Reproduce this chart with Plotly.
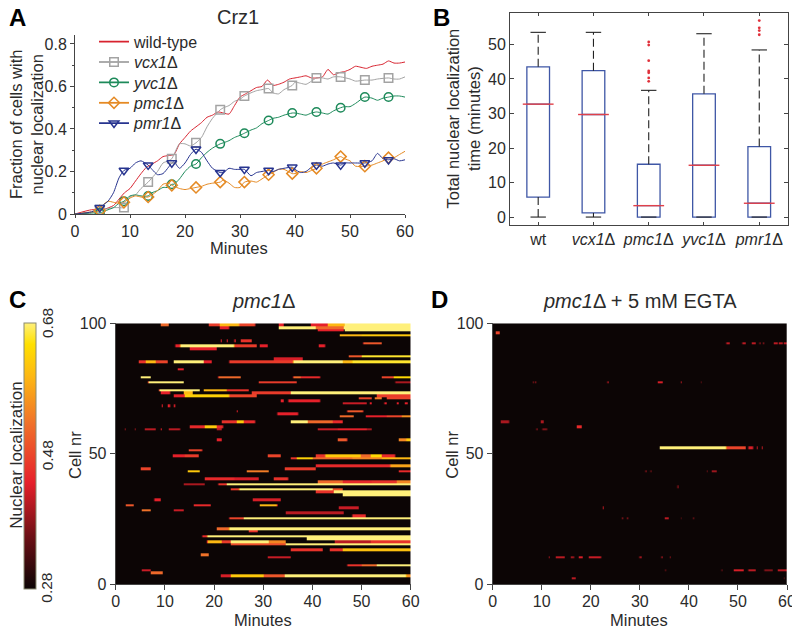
import numpy as np
import plotly.graph_objects as go

# The page is drawn 8 px in from the window's corner, so the figure is 8 px smaller each way
PAD = 8
W, H = 800 - PAD, 630 - PAD
FONT = "Liberation Sans"
DARK = "#2b2b2b"

# ---------- Panel A data ----------
t_wt = [0,3,5,7,8,9,10,11,12,13,14,15,16,17,18,19,20,21,22,23,24,25,26,27,28,29,30,31,32,33,34,35,36,37,38,39,40,41,42,43,44,45,46,47,48,49,50,51,52,53,54,55,56,57,58,59,60]
wt = [0,.02,.02,.04,.07,.1,.12,.155,.19,.22,.235,.25,.27,.275,.28,.33,.36,.39,.41,.43,.455,.465,.48,.475,.47,.51,.55,.565,.58,.595,.6,.63,.605,.61,.62,.635,.64,.645,.65,.64,.64,.645,.68,.655,.665,.67,.68,.695,.69,.685,.695,.70,.705,.72,.71,.71,.715]
t_vcx = [0,3,4.5,6,7,8,8.9,10,11,12,13.3,14,15,16,17,17.6,18,19,20,21,22,23,24,25,26.4,27,28,29,30,30.8,32,33,34,35.2,36,37,38,39.5,40,41,42,43,43.9,45,46,47,48.3,50,51,52.7,54,55,57,58,59,60]
vcx = [0,.005,.02,.025,.03,.03,.03,.08,.09,.12,.15,.17,.2,.24,.25,.26,.28,.33,.33,.32,.335,.36,.41,.45,.49,.5,.51,.53,.54,.555,.57,.58,.585,.59,.57,.565,.585,.605,.62,.615,.61,.625,.64,.64,.635,.645,.645,.635,.625,.63,.63,.635,.64,.635,.635,.645]
t_yvc = [0,3,4.5,6,7,8,8.9,10,11,12,13.3,14,15,16,17,17.6,18,19,20,21,22,23,24,25,26.4,27,28,29,30,30.8,32,33,34,35.2,36,37,38,39.5,40,41,42,43,43.9,45,46,47,48.3,49,50,51,52.7,54,55,56,57,58,59,60]
yvc = [0,.005,.005,.02,.03,.05,.06,.085,.09,.085,.085,.1,.11,.125,.125,.14,.14,.165,.2,.225,.235,.265,.29,.31,.33,.335,.345,.36,.37,.38,.395,.405,.425,.44,.45,.455,.465,.475,.475,.47,.465,.475,.48,.475,.47,.485,.5,.505,.505,.52,.55,.545,.535,.545,.55,.555,.555,.55]
t_pmc = [0,3,4.5,5,6,7,8,8.9,10,11,12,13.3,14,15,16,17,17.6,18,19,20,21,22,23,24,25,26.4,27,28,29,30,30.8,32,33,34,35.2,36,37,38,39.5,40,41,42,43,43.9,45,46,47,48.3,49,50,51,52.7,54,55,56,57,58,59,60]
pmc = [0,.01,.015,.04,.06,.055,.05,.055,.075,.085,.08,.08,.09,.11,.14,.145,.135,.13,.12,.115,.12,.125,.13,.14,.145,.15,.16,.145,.125,.125,.15,.155,.15,.165,.185,.195,.21,.21,.19,.19,.2,.195,.205,.215,.235,.245,.255,.27,.26,.25,.225,.225,.23,.24,.25,.265,.265,.28,.295]
t_pmr = [0,3,4.5,5,6,7,8,8.9,10,11,12,13.3,14,15,16,17,17.6,18,19,20,21,22,23,24,25,26.4,27,28,29,30,30.8,32,33,34,35.2,36,37,38,39.5,40,41,42,43,43.9,45,46,47,48.3,49,50,51,52.7,54,55,56,57,58,59,60]
pmr = [0,.01,.03,.04,.06,.1,.17,.205,.215,.24,.25,.23,.21,.185,.19,.22,.24,.245,.215,.24,.28,.305,.29,.25,.215,.195,.195,.215,.21,.21,.21,.18,.195,.2,.205,.2,.21,.215,.22,.21,.195,.2,.22,.23,.225,.235,.24,.23,.24,.24,.24,.24,.25,.285,.26,.255,.26,.25,.255]

t_marks = [4.5,8.9,13.3,17.6,22,26.4,30.8,35.2,39.5,43.9,48.3,52.7,57]
vcx_marks = [.02,.03,.15,.26,.335,.49,.555,.59,.605,.64,.645,.63,.64]
yvc_marks = [.005,.06,.085,.14,.235,.33,.38,.44,.475,.48,.5,.55,.55]
pmc_marks = [.015,.055,.08,.135,.125,.15,.15,.185,.19,.215,.27,.225,.265]
pmr_marks = [.03,.205,.23,.24,.305,.195,.21,.205,.22,.23,.23,.24,.255]

# ---------- Panel B data ----------
box_labels = ["wt", "<i>vcx1</i>Δ", "<i>pmc1</i>Δ", "<i>yvc1</i>Δ", "<i>pmr1</i>Δ"]
box_pos = [1, 2, 3, 4, 5]
box_low = [0, 0, 0, 0, 0]
box_q1 = [5.8, 1.2, 0, 0, 0]
box_med = [32.7, 29.7, 3.3, 15, 4]
box_q3 = [43.5, 42.4, 15.3, 35.7, 20.4]
box_up = [53.5, 53.5, 36.7, 53.1, 48.4]
out_x = [3, 3, 3, 3, 3, 3, 3, 5, 5, 5, 5]
out_y = [39.3, 40.3, 41.8, 42.3, 45.3, 49.8, 50.7, 52.8, 54, 54.8, 56.9]

# ---------- Panels C and D data: cell -> (start minute, end minute, level) ----------
R, O, A, Y = .44, .52, .6, .68   # red, orange, amber, yellow levels
cells_c = {
 100: [(9,10.7,O),(18.8,21,.47),(21,25,A),(25,28.3,.48),(33,34,R),(39.5,43,R),(43,46.5,A),(46.5,60,Y)],
 99: [(21,23,R),(33,40.5,Y),(40.5,46.3,O),(46.3,60,Y)],
 98: [(41,46.3,R),(46.6,60,Y)],
 96: [(45.5,50,A),(50,60,.62)],
 94: [(21.2,21.5,R),(22.5,22.8,R),(24,24.3,R),(25.3,27.6,.46)],
 93: [(50.3,54,.5)],
 92: [(12,13,R),(13,24,Y),(24,28.5,.47),(29.2,30.8,R),(41.2,42.5,R)],
 91: [(15,20.5,.44)],
 88: [(47.3,50,.5),(50,60,.66)],
 87: [(32,38,.43)],
 86: [(4.6,6,.46),(6,8,A),(8,10.4,.48),(11.7,17.8,Y),(17.8,19.4,R),(23,36,.47),(36,46,Y),(46,48,A),(48,60,.66)],
 83: [(12.5,13.8,R)],
 80: [(5,7,Y),(20.7,25.3,.52),(36,37.5,O),(37.5,41.5,.45),(54,56.5,.48),(56.5,60,.64)],
 78: [(6.5,13.8,Y),(29,36.8,.47),(56.8,60,.4)],
 75: [(8.7,17,Y),(17.8,22.5,A),(22.5,27,.46)],
 74: [(13.8,15.4,A),(9,11,R),(27.5,35.5,.47),(35.5,60,Y)],
 73: [(11.7,14,R),(14,23,.63),(23,28.5,.48),(53,60,.47)],
 72: [(49.3,52,.48),(52.5,54,.54),(55,60,.48)],
 71: [(33.5,34,R),(35,35.4,R),(35.4,41.5,.44)],
 70: [(46,51,.42),(51.5,52,R),(54.5,55,R),(57,57.5,R),(58.8,59.2,R)],
 69: [(9.2,9.5,R),(10.6,10.9,R),(11.7,12,R)],
 67: [(47,50.3,.5),(24.5,24.8,R)],
 66: [(32.7,37,.44)],
 65: [(45.6,48.3,.52),(50.7,55,.44),(55,58,.48),(58,60,.56)],
 63: [(21.6,24.5,.46),(24.5,26,.62),(26,28.3,.45),(35.4,39,Y),(39,44,.52),(44,46,.45)],
 61: [(15,18,.45),(18,20.5,.62),(20.5,21.8,.45)],
 60: [(1.8,2,.38),(3.8,4,.38),(5.8,8,.41),(9,9.3,R),(10.8,13,.41),(20.5,21.5,.41),(41,45,.42),(45,51,.44),(51,52,.4)],
 56: [(20.5,21.5,R),(45,47,.5),(57.5,59,.55),(59,60,.62)],
 52: [(14.8,17.5,.48)],
 50: [(11.6,14,.44),(14,16.8,.47),(30.7,33.5,.48),(40.5,42.5,.46),(42.5,49.7,.62),(49.7,51.7,.52),(51.7,54,.64),(54,56.8,.45)],
 49: [(35.4,36.8,.46),(36.8,40,.63),(40,48,.52),(48,54,.55),(54,60,.6)],
 46: [(40.6,41,R),(41,55.8,.45),(55.8,60,.58)],
 45: [(5,7,.48),(34.2,40.5,.47)],
 44: [(14.4,17,.62),(26.6,31,.54),(57.5,60,.45)],
 41: [(18,24,.45),(24,29,.43),(32,35,.46)],
 40: [(41,46,.52),(46,52,.45),(52,57,.46),(57,60,.55)],
 39: [(13.8,18,.4),(20.8,22.5,.46),(22.5,60,Y)],
 37: [(23.2,24.9,.47),(24.9,44,Y),(44,46,.5)],
 36: [(40.6,44.2,.46),(44.2,60,Y)],
 35: [(46,60,Y)],
 33: [(7.8,9,.44),(27.7,33.5,.43)],
 31: [(1.9,3.6,.5),(15.8,19.2,.45),(29.3,32.7,.6)],
 30: [(45.3,49.3,.42)],
 29: [(5.3,7,.53),(11.7,13.8,.42)],
 28: [(34.5,46.3,.41)],
 27: [(48,50.7,.45)],
 26: [(23,25.9,.48),(25.9,60,Y)],
 22: [(20.6,23,.52),(23,60,Y)],
 21: [(27,28.7,.46)],
 19: [(17.5,18.5,.45),(18.5,60,Y)],
 18: [(38.8,60,Y)],
 17: [(18.5,21.5,A),(21.5,23.2,.47),(23.2,31,Y),(31,34.5,.55),(44.6,51.7,.41),(51.7,60,.46)],
 16: [(23.2,34.5,.49),(34.5,60,Y)],
 14: [(35.4,42,.46),(43.5,46,.46),(46,60,.61)],
 12: [(17.2,18.8,.53)],
 11: [(30.7,35.4,.42)],
 8: [(47,50,.46),(50,53,.52),(53,60,Y)],
 6: [(5.3,7,.42)],
 5: [(7,9.4,.52)],
 4: [(21.2,23.2,.43),(23.2,30,.62),(30,34.2,.5),(34.2,59,Y),(59,60,.56)],
}
cells_d = {
 97: [(.6,1.3,.48)],
 93: [(47.4,48.2,.41),(49.9,50.1,.37),(50.7,51.4,.41),(52.7,53.4,.41),(54.2,54.4,.37),(55,55.2,.37),(57.2,57.9,.41),(58.2,59,.41),(59.2,59.9,.41)],
 78: [(8,8.2,.37),(8.5,8.7,.37),(23.2,23.4,.4),(33.4,34.4,.43),(38.2,38.5,.4),(42.3,42.5,.34)],
 63: [(1.4,3.2,.4),(9.7,10.3,.4),(12.4,12.6,.37)],
 61: [(17.1,18.1,.45)],
 60: [(8.8,9,.37),(10.1,11,.37)],
 53: [(34.1,47.4,Y),(47.4,51.4,.48),(52.1,53,.43),(53.8,54,.41),(54.8,55,.41)],
 44: [(31,31.2,.37),(32,32.2,.35),(43.5,43.7,.35),(44.4,45.4,.39)],
 38: [(37.5,37.7,.37)],
 30: [(22.3,22.6,.41)],
 26: [(26.2,26.4,.37),(27.2,27.4,.37),(35,35.8,.41),(38.2,38.4,.33),(40.7,40.9,.35)],
 23: [(3.4,3.6,.33)],
 11: [(11.3,11.6,.39),(12.7,14.4,.41),(15.8,16.4,.39),(17.4,18.3,.43),(19.5,21.9,.42),(29.7,30.2,.39),(32.4,32.6,.37),(34.2,34.5,.39),(36.1,36.3,.37),(46.9,47.1,.39)],
 6: [(35.1,35.3,.34),(46.5,46.7,.34),(48.9,51,.43),(52,53.5,.41),(55.2,57,.37),(57.9,60,.41)],
 3: [(16,16.8,.41),(59.2,59.4,.34)],
}
bar_ticks = [.28, .48, .68]
bar_labels = ["0.28", "0.48", "0.68"]

# ---------- Styles ----------
colors = {"wt": "#d8232f", "vcx": "#a3a3a3", "yvc": "#1d8a5a", "pmc": "#e58a24", "pmr": "#27348f"}
hot = [[0, "#0c0505"], [.2, "#6e1015"], [.4, "#e6202a"], [.62, "#f0702a"], [.8, "#fdb813"],
       [.92, "#ffe000"], [1, "#fff07a"]]


def px_x(p): return (p - PAD) / W
def px_y(p): return 1 - (p - PAD) / H


def matrix(rows, sub=3):
    edges = np.arange(0, 60.001, .25)
    centers = (edges[:-1] + edges[1:]) / 2
    z = np.full((100 * sub, len(centers)), .28)
    for cell, segs in rows.items():
        for a, b, v in segs:
            z[(cell - 1) * sub:cell * sub, (centers >= a) & (centers < b)] = v
    ys = (np.arange(100 * sub) + .5) / sub
    return centers, ys, z


fig = go.Figure()

# ---------- Panel A traces ----------
lines = [("wild-type", t_wt, wt, "wt", None, None),
         ("<i>vcx1</i>Δ", t_vcx, vcx, "vcx", vcx_marks, "square-open"),
         ("<i>yvc1</i>Δ", t_yvc, yvc, "yvc", yvc_marks, "circle-open"),
         ("<i>pmc1</i>Δ", t_pmc, pmc, "pmc", pmc_marks, "diamond-open"),
         ("<i>pmr1</i>Δ", t_pmr, pmr, "pmr", pmr_marks, "triangle-down-open")]
for name, tx, vy, key, marks, sym in lines:
    fig.add_trace(go.Scatter(x=tx, y=vy, mode="lines", showlegend=False, hoverinfo="skip",
                             line=dict(color=colors[key], width=1.0, shape="spline", smoothing=.6),
                             xaxis="x", yaxis="y"))
legend_rows = {}
for i, (name, tx, vy, key, marks, sym) in enumerate(lines):
    if marks is not None:
        fig.add_trace(go.Scatter(x=t_marks, y=marks, mode="markers", showlegend=False,
                                 marker=dict(symbol=sym, size=8.5, color=colors[key],
                                             line=dict(color=colors[key], width=1.5)),
                                 xaxis="x", yaxis="y"))
    lg = "legend" if i == 0 else f"legend{i + 1}"
    fig.add_trace(go.Scatter(x=[None], y=[None], mode="lines+markers" if marks else "lines", name=name,
                             line=dict(color=colors[key], width=1.8), legend=lg,
                             marker=dict(symbol=sym or "circle", size=8.5, color=colors[key],
                                         line=dict(color=colors[key], width=1.5)),
                             xaxis="x", yaxis="y"))
    legend_rows[lg] = dict(x=px_x(94), y=px_y(41.7 + 20.4 * i), xanchor="left", yanchor="middle",
                           bgcolor="rgba(0,0,0,0)", font=dict(size=16, color=DARK, family=FONT), itemwidth=30)

# ---------- Panel B traces ----------
fig.add_trace(go.Box(x=box_pos, q1=box_q1, median=box_med, q3=box_q3, lowerfence=box_q1, upperfence=box_q3,
                     width=.41, whiskerwidth=0, fillcolor="rgba(0,0,0,0)", boxpoints=False,
                     line=dict(color="#3f57a6", width=1.3), showlegend=False, xaxis="x2", yaxis="y2"))
wx, wy = [], []
for i, p in enumerate(box_pos):
    if box_q3[i] != box_up[i]:
        wx += [p, p, None]
        wy += [box_q3[i], box_up[i], None]
    if box_q1[i] != box_low[i]:
        wx += [p, p, None]
        wy += [box_low[i], box_q1[i], None]
fig.add_trace(go.Scatter(x=wx, y=wy, mode="lines", line=dict(color="#222222", width=1.1, dash="8px,4px"),
                         showlegend=False, xaxis="x2", yaxis="y2"))
fig.add_trace(go.Scatter(x=box_pos + box_pos, y=box_low + box_up, mode="markers", showlegend=False,
                         marker=dict(symbol="line-ew", size=11, line=dict(color="#222222", width=1.1)),
                         xaxis="x2", yaxis="y2"))
fig.add_trace(go.Scatter(x=box_pos, y=box_med, mode="markers", showlegend=False,
                         marker=dict(symbol="line-ew", size=22, line=dict(color="#e0404a", width=1.4)),
                         xaxis="x2", yaxis="y2"))
fig.add_trace(go.Scatter(x=out_x, y=out_y, mode="markers", showlegend=False,
                         marker=dict(symbol="circle", size=2.8, color="#e0303a"), xaxis="x2", yaxis="y2"))

# ---------- Panels C and D traces ----------
xc, yc, zc = matrix(cells_c)
xd, yd, zd = matrix(cells_d)
fig.add_trace(go.Heatmap(x=xc, y=yc, z=zc, zmin=.28, zmax=.68, colorscale=hot, xaxis="x3", yaxis="y3", zsmooth="best",
                         colorbar=dict(x=px_x(24), xanchor="left", xpad=0, y=px_y(588.5), yanchor="bottom", ypad=0,
                                       len=265.5 / H, lenmode="fraction", thickness=12, thicknessmode="pixels",
                                       tickvals=bar_ticks, showticklabels=False, ticks="",
                                       outlinecolor="#8a8a70", outlinewidth=1)))
fig.add_trace(go.Heatmap(x=xd, y=yd, z=zd, zmin=.28, zmax=.68, colorscale=hot, showscale=False, zsmooth="best",
                         xaxis="x4", yaxis="y4"))

# ---------- Layout ----------
tick_font = dict(size=16, color=DARK, family=FONT)


def xax(x0, x1, **kw):
    d = dict(domain=[px_x(x0), px_x(x1)], showgrid=False, zeroline=False, showline=True, linecolor="#444444",
             linewidth=1, tickfont=tick_font, tickcolor="#444444")
    d.update(kw)
    return d


def yax(y0, y1, **kw):
    d = dict(domain=[px_y(y1), px_y(y0)], showgrid=False, zeroline=False, showline=True, linecolor="#444444",
             linewidth=1, tickfont=tick_font, tickcolor="#444444")
    d.update(kw)
    return d


minutes = [0, 10, 20, 30, 40, 50, 60]
layout = dict(
    width=W, height=H, margin=dict(l=0, r=0, t=0, b=0, autoexpand=False), paper_bgcolor="white", plot_bgcolor="white",
    font=dict(family=FONT, color=DARK),
    xaxis=xax(75, 405, range=[0, 60], anchor="y", tickvals=minutes, ticks="outside", ticklen=3),
    yaxis=yax(35, 214, range=[0, .842], anchor="x",
              tickvals=[0, .2, .4, .6, .8], ticktext=["0", "0.2", "0.4", "0.6", "0.8"], ticks="outside", ticklen=4,
              minor=dict(tickvals=[.1, .3, .5, .7], ticks="outside", ticklen=2, tickcolor="#444444")),
    xaxis2=xax(510, 788, range=[.49, 5.52], anchor="y2", tickvals=box_pos, ticktext=box_labels, ticks="inside",
               ticklen=3, mirror="allticks"),
    yaxis2=yax(13, 225, range=[-2.3, 59.1], anchor="x2",
               tickvals=[0, 10, 20, 30, 40, 50], ticks="inside", ticklen=4, mirror="allticks"),
    xaxis3=xax(115.7, 410.7, range=[0, 60], anchor="y3", tickvals=minutes, ticks="outside", ticklen=5,
               ticklabelstandoff=-3),
    yaxis3=yax(323.3, 584.3, range=[0, 100], anchor="x3", tickvals=[0, 50, 100], ticks="outside", ticklen=5),
    xaxis4=xax(492.7, 787, range=[0, 60], anchor="y4", tickvals=minutes, ticks="outside", ticklen=5,
               ticklabelstandoff=-3),
    yaxis4=yax(323.3, 584.3, range=[0, 100], anchor="x4", tickvals=[0, 50, 100], ticks="outside", ticklen=5),
)
layout.update(legend_rows)
fig.update_layout(**layout)


def note(text, x, y, size=15, angle=0, color=DARK):
    fig.add_annotation(text=text, x=px_x(x), y=px_y(y), xref="paper", yref="paper", showarrow=False,
                       font=dict(size=size, color=color, family=FONT), textangle=angle,
                       xanchor="center", yanchor="middle")


note("<b>A</b>", 17, 18, 24, color="black")
note("<b>B</b>", 441, 18, 24, color="black")
note("<b>C</b>", 17, 299, 24, color="black")
note("<b>D</b>", 440, 299, 24, color="black")
note("Crz1", 238, 17, 20)
note("<i>pmc1</i>Δ", 263, 301, 20)
note("<i>pmc1</i>Δ + 5 mM EGTA", 640, 301, 20)
note("Fraction of cells with<br>nuclear localization", 26, 125, 16.5, -90)
note("Minutes", 239.5, 248, 16.5)
note("Total nuclear localization<br>time (minutes)", 462.5, 119, 16.5, -90)
note("Minutes", 262.7, 620, 16.5)
note("Cell nr", 75, 455, 16.5, -90)
note("Minutes", 639, 620, 16.5)
note("Cell nr", 451.7, 455, 16.5, -90)
note("Nuclear localization", 17, 455.7, 17, -90)
for tick, label in zip(bar_ticks, bar_labels):
    note(label, 47, 587.7 - (tick - .28) / .4 * 264.7, 15.5, -90)

fig.write_html("out.html")
